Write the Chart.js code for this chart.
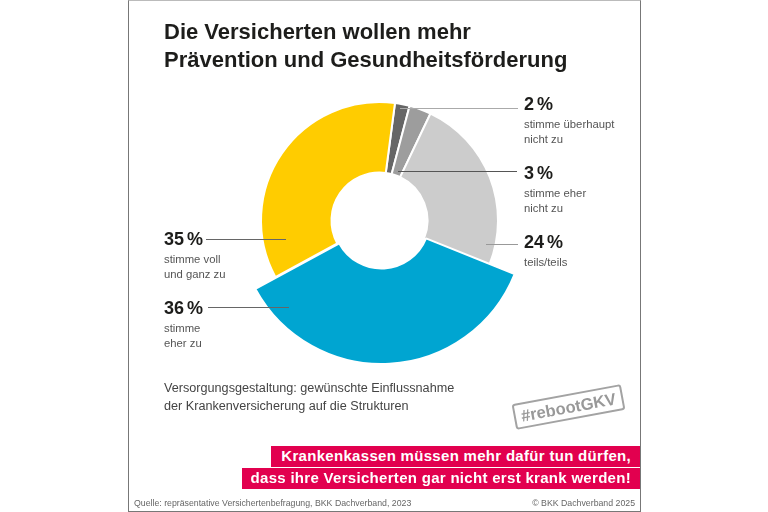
<!DOCTYPE html>
<html lang="de">
<head>
<meta charset="utf-8">
<title>Prävention und Gesundheitsförderung</title>
<script src="https://cdn.jsdelivr.net/npm/chart.js@4/dist/chart.umd.min.js"></script>
<style>
  html, body { margin: 0; padding: 0; background: #fff; }
  #stage { position: relative; width: 768px; height: 512px; overflow: hidden; font-family: "Liberation Sans", sans-serif; color: #1d1d1b; }
  #chart { position: absolute; left: 0; top: 0; }
  #frame { position: absolute; left: 128px; top: 0; width: 511px; height: 510px; border: 1px solid #777; border-top-color: #bbb; box-sizing: content-box; }
  .abs { position: absolute; white-space: nowrap; }
  h1 { position: absolute; left: 164px; top: 18px; margin: 0; font-size: 22px; line-height: 28px; font-weight: 700; white-space: nowrap; }
  .pct { font-size: 18px; line-height: 20px; font-weight: 700; word-spacing: -2px; }
  .lab { font-size: 11.3px; line-height: 14.5px; color: #555; margin-top: 3px; }
  .lead { position: absolute; height: 1px; }
  .note { left: 164px; top: 379px; font-size: 12.65px; line-height: 18px; color: #444; }
  .band { position: absolute; right: 128px; height: 20.5px; line-height: 20.5px; background: #e2004f; color: #fff; font-weight: 700; font-size: 15px; letter-spacing: 0.3px; text-align: right; padding-right: 9px; box-sizing: border-box; white-space: nowrap; }
  #stamp { position: absolute; left: 513px; top: 394px; width: 107px; height: 22px; line-height: 22px; border: 2px solid #a3a3a3; border-radius: 3px; color: #999; font-weight: 700; font-size: 16.5px; text-align: center; transform: rotate(-10.5deg); box-sizing: content-box; }
  .foot { position: absolute; top: 497px; font-size: 8.75px; line-height: 12px; color: #666; white-space: nowrap; }
</style>
</head>
<body>
<div id="stage">
  <canvas id="chart" width="768" height="512"></canvas>
  <div id="frame"></div>
  <h1>Die Versicherten wollen mehr<br>Prävention und Gesundheitsförderung</h1>
  <div id="labels"></div>
  <div class="abs note">Versorgungsgestaltung: gewünschte Einflussnahme<br>der Krankenversicherung auf die Strukturen</div>
  <div id="stamp">#rebootGKV</div>
  <div class="band" style="top:446px;width:369px">Krankenkassen müssen mehr dafür tun dürfen,</div>
  <div class="band" style="top:468px;width:398px">dass ihre Versicherten gar nicht erst krank werden!</div>
  <div class="foot" style="left:134px">Quelle: repräsentative Versichertenbefragung, BKK Dachverband, 2023</div>
  <div class="foot" style="right:133px">© BKK Dachverband 2025</div>
</div>
<script>
const categories = ['stimme überhaupt|nicht zu', 'stimme eher|nicht zu', 'teils/teils', 'stimme|eher zu', 'stimme voll|und ganz zu'];
const values = [2, 3, 24, 36, 35];
const colors = ['#666666', '#9d9d9d', '#cccccc', '#00a5d1', '#ffcc00'];

// where each callout goes: text box and leader line
const callouts = [
  { x: 524, y: 94,  line: [400, 518, 108], lineColor: '#aaaaaa' },
  { x: 524, y: 163, line: [398, 517, 171], lineColor: '#555555' },
  { x: 524, y: 232, line: [486, 518, 244], lineColor: '#999999' },
  { x: 164, y: 298, line: [208, 289, 307], lineColor: '#666666' },
  { x: 164, y: 229, line: [206, 286, 239], lineColor: '#666666' }
];

const BLUE = 3;          // the slice that sticks out
const BLUE_RADIUS = 143.5;
const BLUE_SHIFT = 2;    // its arc sits a little right of the others

const enlargeSlice = {
  id: 'enlargeSlice',
  afterDatasetsUpdate(chart) {
    const arc = chart.getDatasetMeta(0).data[BLUE];
    arc.outerRadius = BLUE_RADIUS;
    arc.x += BLUE_SHIFT;
  }
};

new Chart(document.getElementById('chart'), {
  type: 'doughnut',
  data: {
    labels: categories,
    datasets: [{ data: values, backgroundColor: colors, borderColor: '#ffffff', borderWidth: 2 }]
  },
  options: {
    responsive: false,
    animation: false,
    rotation: 7.5,
    radius: 118.5,
    cutout: '40.5%',
    layout: { padding: { left: 0, top: 0, right: 9, bottom: 71 } },
    plugins: { legend: { display: false }, tooltip: { enabled: false } }
  },
  plugins: [enlargeSlice]
});

const box = document.getElementById('labels');
callouts.forEach((c, i) => {
  const [x1, x2, y] = c.line;
  box.innerHTML += `<div class="lead" style="left:${x1}px;top:${y}px;width:${x2 - x1}px;background:${c.lineColor}"></div>`;
  box.innerHTML += `<div class="abs" style="left:${c.x}px;top:${c.y}px"><div class="pct">${values[i]} %</div><div class="lab">${categories[i].split('|').join('<br>')}</div></div>`;
});
</script>
</body>
</html>
